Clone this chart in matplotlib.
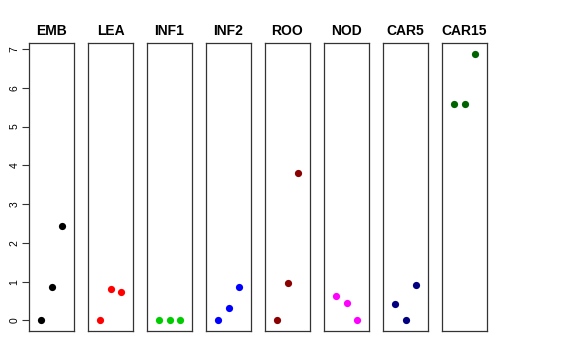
import matplotlib
matplotlib.use('Agg')
import matplotlib.pyplot as plt

# data
tissues = ['EMB', 'LEA', 'INF1', 'INF2', 'ROO', 'NOD', 'CAR5', 'CAR15']
colors = ['black', 'red', '#00CD00', 'blue', '#8B0000', 'magenta', '#000080', '#006400']
emb = [0.0, 0.85, 2.43]
lea = [0.0, 0.80, 0.73]
inf1 = [0.0, 0.0, 0.0]
inf2 = [0.0, 0.31, 0.86]
roo = [0.0, 0.96, 3.80]
nod = [0.64, 0.44, 0.0]
car5 = [0.41, 0.0, 0.90]
car15 = [5.57, 5.57, 6.88]
values = [emb, lea, inf1, inf2, roo, nod, car5, car15]
xpos = [1, 2, 3]

plt.rcParams['font.family'] = ['Liberation Sans', 'DejaVu Sans']

fig = plt.figure(figsize=(5.76, 3.6), dpi=100)
W, H = 576.0, 360.0

ymax = max(max(v) for v in values)
ymin = 0.0
pad = 0.04 * (ymax - ymin)

for i, (name, col, vals) in enumerate(zip(tissues, colors, values)):
    left = 29 + i * 59
    ax = fig.add_axes([left / W, (H - 331) / H, 45 / W, 288 / H])
    ax.plot(xpos, vals, 'o', color=col, markersize=5.2, markeredgewidth=0)
    ax.set_xlim(-0.16, 4.16)
    ax.set_ylim(ymin - pad, ymax + pad)
    ax.set_xticks([])
    for sp in ax.spines.values():
        sp.set_color('#333333')
        sp.set_linewidth(0.9)
    ax.set_title(name, fontsize=10, fontweight='bold', pad=6)
    if i == 0:
        ax.set_yticks(range(0, 8))
        ax.tick_params(axis='y', length=5, width=0.8, labelsize=7.5, pad=2, color='#333333')
        for lab in ax.get_yticklabels():
            lab.set_rotation(90)
            lab.set_va('center')
    else:
        ax.set_yticks([])

fig.savefig('out.png', dpi=100)
